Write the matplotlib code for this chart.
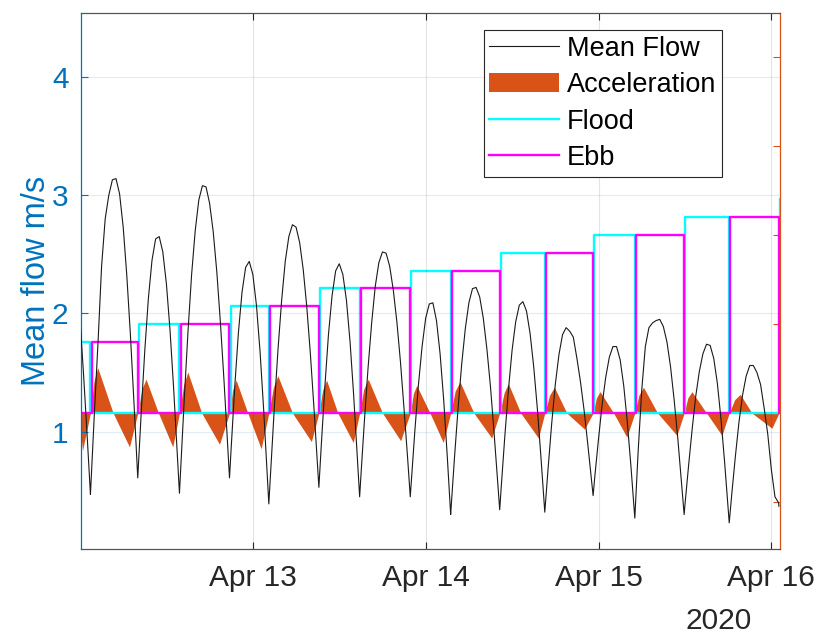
import datetime as dt
import numpy as np
import matplotlib
matplotlib.use('Agg')
import matplotlib.pyplot as plt
import matplotlib.dates as mdates
from matplotlib.lines import Line2D
from matplotlib.patches import Patch
from matplotlib.ticker import FixedLocator

plt.rcParams['font.family'] = ['Liberation Sans', 'DejaVu Sans']

# ---------------- data (hours since 2020-04-12 00:00) ----------------
start = dt.datetime(2020, 4, 12)

# half-hourly mean flow, t = 0.0, 0.5, ... 97.0 h
flow_grid = [
    1.95, 1.48, 0.96, 0.53, 1.16, 1.75, 2.40, 2.80, 3.00, 3.13,
    3.14, 3.01, 2.73, 2.32, 1.82, 1.24, 0.64, 1.16, 1.69, 2.13,
    2.45, 2.63, 2.65, 2.52, 2.25, 1.86, 1.37, 0.83, 0.71, 1.30,
    1.85, 2.33, 2.70, 2.96, 3.08, 3.07, 2.93, 2.69, 2.35, 1.92,
    1.43, 0.90, 0.87, 1.39, 1.84, 2.18, 2.39, 2.44, 2.33, 2.07,
    1.68, 1.19, 0.64, 0.69, 1.22, 1.70, 2.11, 2.44, 2.65, 2.75,
    2.73, 2.60, 2.37, 2.05, 1.65, 1.19, 0.70, 0.88, 1.38, 1.82,
    2.15, 2.36, 2.42, 2.33, 2.11, 1.76, 1.31, 0.80, 0.62, 1.10,
    1.54, 1.92, 2.23, 2.43, 2.52, 2.51, 2.40, 2.20, 1.93, 1.59,
    1.19, 0.77, 0.57, 1.01, 1.40, 1.72, 1.96, 2.08, 2.09, 1.94,
    1.66, 1.27, 0.79, 0.33, 0.78, 1.20, 1.57, 1.87, 2.09, 2.21,
    2.22, 2.14, 1.96, 1.70, 1.38, 0.99, 0.58, 0.54, 0.97, 1.36,
    1.69, 1.93, 2.07, 2.10, 2.02, 1.83, 1.55, 1.20, 0.79, 0.36,
    0.69, 1.07, 1.40, 1.65, 1.82, 1.88, 1.85, 1.80, 1.62, 1.42,
    1.18, 0.90, 0.61, 0.63, 0.94, 1.23, 1.46, 1.63, 1.72, 1.72,
    1.61, 1.39, 1.08, 0.71, 0.30, 0.83, 1.35, 1.72, 1.88, 1.92,
    1.94, 1.95, 1.89, 1.76, 1.55, 1.27, 0.95, 0.59, 0.38, 0.71,
    1.02, 1.30, 1.51, 1.66, 1.74, 1.73, 1.62, 1.41, 1.11, 0.75,
    0.35, 0.47, 0.79, 1.08, 1.31, 1.47, 1.56, 1.56, 1.50, 1.40,
    1.20, 0.98, 0.68, 0.45, 0.40,
]

# slack water (flow minima) - also the flood/ebb switch times
slack_hours = [1.45, 8.02, 13.81, 20.76, 26.22, 33.17, 38.83, 45.86,
               51.47, 58.28, 64.54, 71.25, 77.04, 83.89, 90.15, 97.05]
slack_flow = [0.47, 0.61, 0.48, 0.61, 0.39, 0.53, 0.45, 0.45,
              0.30, 0.34, 0.32, 0.46, 0.27, 0.30, 0.23, 0.37]

# acceleration outline (right axis)
acc_hours = [0.14, 0.35, 1.45,
             1.95, 2.46, 4.6, 6.87, 8.02,
             8.6, 9.17, 10.9, 12.88, 13.81,
             14.4, 14.97, 16.9, 19.37, 20.76,
             21.2, 21.68, 23.3, 25.15, 26.22,
             26.85, 27.47, 29.5, 32.13, 33.17,
             33.7, 34.24, 35.8, 37.94, 38.83,
             39.4, 40.02, 42.0, 44.52, 45.86,
             46.3, 46.75, 48.6, 50.44, 51.47,
             52.1, 52.77, 54.7, 57.17, 58.28,
             58.9, 59.48, 61.2, 63.65, 64.54,
             65.2, 65.87, 67.6, 70.04, 71.25,
             71.7, 72.22, 74.1, 75.93, 77.04,
             77.6, 78.24, 80.2, 82.88, 83.89,
             84.4, 84.97, 87.0, 89.13, 90.15,
             90.9, 91.68, 93.3, 96.08, 97.05]
acc_values = [-0.25, -0.42, 0,
              0.36, 0.51, 0, -0.38, 0,
              0.27, 0.38, 0, -0.38, 0,
              0.32, 0.46, 0, -0.35, 0,
              0.26, 0.37, 0, -0.40, 0,
              0.29, 0.42, 0, -0.32, 0,
              0.26, 0.37, 0, -0.33, 0,
              0.27, 0.38, 0, -0.31, 0,
              0.22, 0.31, 0, -0.33, 0,
              0.25, 0.35, 0, -0.28, 0,
              0.23, 0.33, 0, -0.28, 0,
              0.20, 0.29, 0, -0.18, 0,
              0.17, 0.24, 0, -0.27, 0,
              0.20, 0.29, 0, -0.25, 0,
              0.17, 0.24, 0, -0.25, 0,
              0.15, 0.21, 0, -0.17, 0]

flood_levels = [0.8, 1.0, 1.2, 1.4, 1.6, 1.8, 2.0, 2.2, 2.4]
ebb_levels = [0.8, 1.0, 1.2, 1.4, 1.6, 1.8, 2.0, 2.2]

t_lo, t_hi = 0.14, 97.2

# -------------------------------------------------------------------
def to_num(h):
    return mdates.date2num(start) + np.asarray(h, dtype=float) / 24.0

flow_hours = np.concatenate([np.arange(len(flow_grid)) * 0.5, slack_hours])
flow_vals = np.concatenate([flow_grid, slack_flow])
order = np.argsort(flow_hours)
flow_hours, flow_vals = flow_hours[order], flow_vals[order]

edges = [t_lo - 1] + slack_hours + [t_hi + 1]
flood_int = [(edges[2 * k], edges[2 * k + 1]) for k in range(len(flood_levels))]
ebb_int = [(edges[2 * k + 1], edges[2 * k + 2]) for k in range(len(ebb_levels))]


def box_line(intervals, levels, gap=0.17):
    xs, ys = [t_lo - 1], [0]
    for (a, b), lev in zip(intervals, levels):
        xs += [a + gap, a + gap, b, b]
        ys += [0, lev, lev, 0]
    xs.append(t_hi + 1)
    ys.append(0)
    return xs, ys


BLUE = '#0072BD'
ORANGE = '#D95319'
GRAY = '#262626'

fig = plt.figure(figsize=(8.19, 6.35), dpi=100)
ax = fig.add_axes([81 / 819, 1 - 548.5 / 635, (780 - 81) / 819, (548.5 - 13) / 635])
ax2 = ax.twinx()
ax.set_zorder(ax2.get_zorder() + 1)
ax.patch.set_visible(False)

# right side: acceleration + flood/ebb boxes
ax2.fill_between(to_num(acc_hours), 0, acc_values, color=ORANGE, lw=0, zorder=1)
fx, fy = box_line(flood_int, flood_levels)
ex, ey = box_line(ebb_int, ebb_levels)
ax2.plot(to_num(fx), fy, color='#00FFFF', lw=1.7, zorder=2)
ax2.plot(to_num(ex), ey, color='#FF00FF', lw=1.7, zorder=3)
ax2.set_ylim(-1.52, 4.49)
ax2.yaxis.set_major_locator(FixedLocator([-1, 0, 1, 2, 3, 4]))
ax2.tick_params(axis='y', direction='in', length=5, color=ORANGE, labelright=False)
for s in ['left', 'top', 'bottom']:
    ax2.spines[s].set_visible(False)
ax2.spines['right'].set_color(ORANGE)
ax2.spines['right'].set_linewidth(0.9)

# left side: mean flow
ax.plot(to_num(flow_hours), flow_vals, color='#1a1a1a', lw=0.8, zorder=3)
ax.set_ylim(0.013, 4.54)
ax.set_xlim(to_num(t_lo), to_num(t_hi))
ax.yaxis.set_major_locator(FixedLocator([1, 2, 3, 4]))
ax.set_yticklabels(['1', '2', '3', '4'])
ax.xaxis.set_major_locator(FixedLocator(to_num([24, 48, 72, 96])))
ax.xaxis.set_major_formatter(mdates.DateFormatter('%b %d'))

ax.tick_params(axis='y', direction='in', length=5, color=BLUE, labelcolor=BLUE,
               labelsize=21.5, pad=9)
ax.tick_params(axis='x', direction='in', length=5, color=GRAY, labelcolor=GRAY,
               labelsize=21.5, pad=11, top=True)
ax.spines['left'].set_color(BLUE)
ax.spines['right'].set_visible(False)
for s in ['top', 'bottom']:
    ax.spines[s].set_color('#555555')
    ax.spines[s].set_linewidth(0.9)
ax.spines['left'].set_linewidth(0.9)

ax.grid(axis='y', color=BLUE, alpha=0.12, lw=0.8)
ax.grid(axis='x', color=GRAY, alpha=0.12, lw=0.8)

ax.set_ylabel('Mean flow m/s', fontsize=23.5, color=BLUE, labelpad=0)

fig.text(719 / 819, 1 - 621 / 635, '2020', fontsize=21.5, color=GRAY,
         ha='center', va='center')

handles = [Line2D([], [], color='#1a1a1a', lw=0.8),
           Patch(facecolor=ORANGE, edgecolor='none'),
           Line2D([], [], color='#00FFFF', lw=1.7),
           Line2D([], [], color='#FF00FF', lw=1.7)]
leg = ax.legend(handles, ['Mean Flow', 'Acceleration', 'Flood', 'Ebb'],
                loc='upper right', bbox_to_anchor=(722 / 819, 1 - 30 / 635),
                bbox_transform=fig.transFigure, borderaxespad=0,
                fontsize=19.5, frameon=True, fancybox=False, framealpha=1,
                edgecolor='#262626', handlelength=2.55, handletextpad=0.3,
                labelspacing=0.38, borderpad=0.22)
leg.get_frame().set_linewidth(0.8)

fig.savefig('out.png', dpi=100)
